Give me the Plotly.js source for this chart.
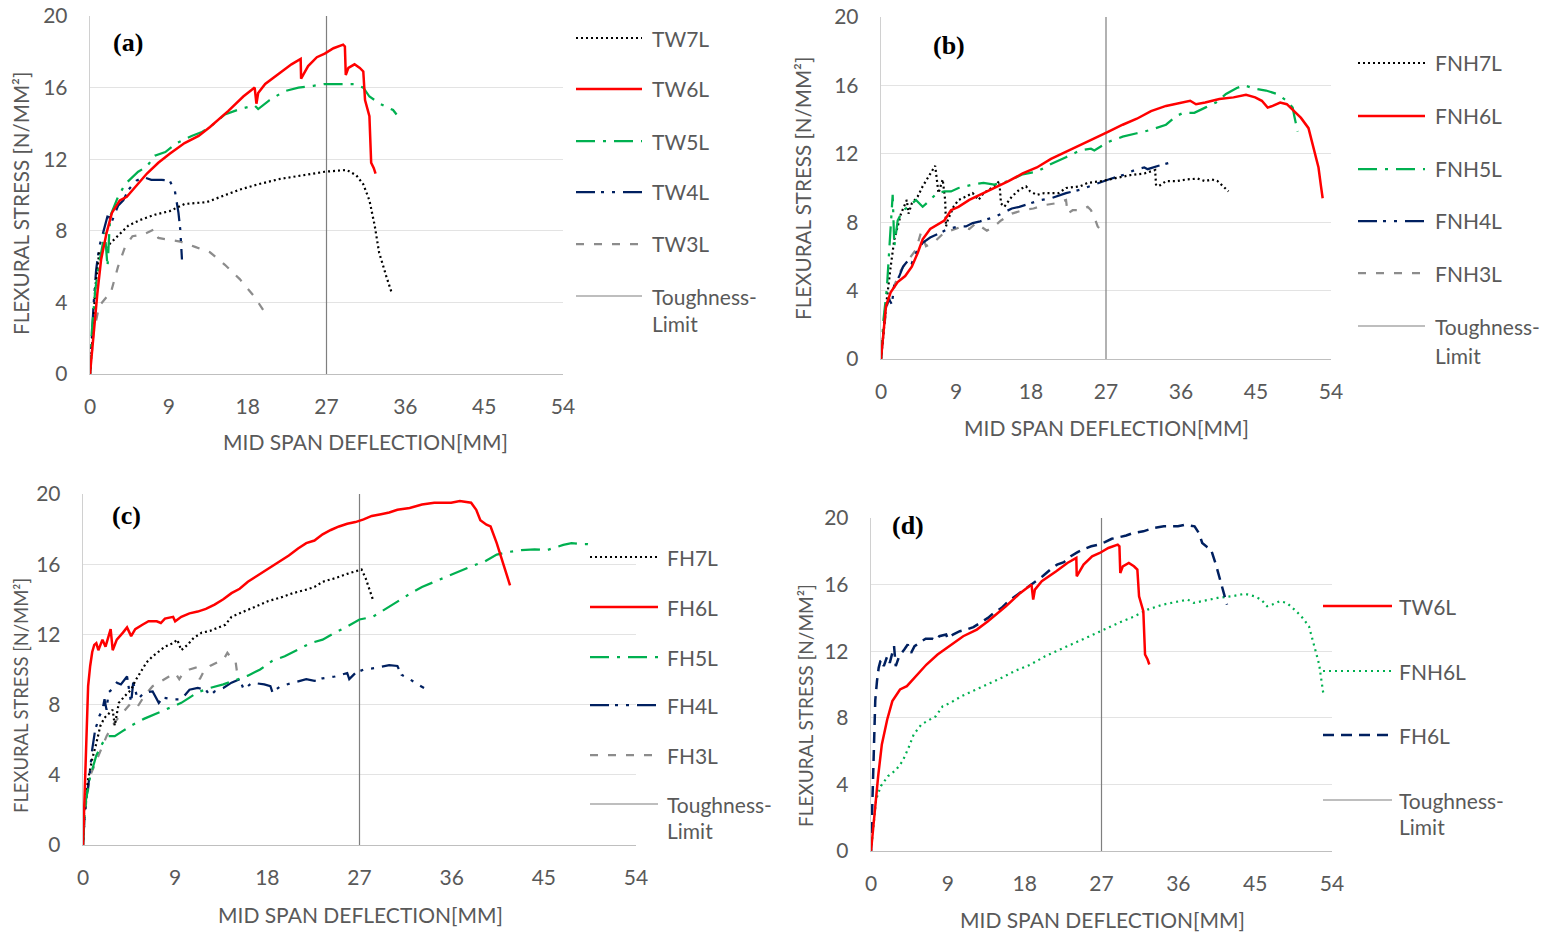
<!DOCTYPE html>
<html>
<head>
<meta charset="utf-8">
<script src="https://cdn.plot.ly/plotly-3.0.1.min.js"></script>
<style>html,body{margin:0;padding:0;background:#fff;}#chart{width:1558px;height:932px;}</style>
</head>
<body>
<div id="chart"></div>
<script>
// ---------------- DATA ----------------
const X_TICKS = [0, 9, 18, 27, 36, 45, 54];
const Y_TICKS = [0, 4, 8, 12, 16, 20];
const X_TITLE = 'MID SPAN DEFLECTION[MM]';
const Y_TITLE = 'FLEXURAL STRESS [N/MM²]';
const TOUGHNESS_X = [27, 27];
const TOUGHNESS_Y = [0, 20];

// (a) TW series
const TW7L_x = [0, 0.3, 0.6, 1.05, 1.9, 3.2, 4.4, 5.7, 7.4, 9.1, 10.8, 13.3, 15.0, 17.1, 19.2, 21.7, 24.3, 26.8, 29.3, 30.4, 31.2, 31.9, 32.5, 33.0, 33.8, 34.4];
const TW7L_y = [0, 2.0, 4.8, 6.8, 7.1, 7.7, 8.3, 8.6, 8.9, 9.1, 9.5, 9.6, 9.9, 10.3, 10.6, 10.9, 11.1, 11.3, 11.4, 11.1, 10.6, 9.7, 8.3, 6.8, 5.5, 4.6];
const TW6L_x = [0, 0.42, 0.84, 1.27, 1.9, 2.5, 3.4, 4.2, 5.3, 6.5, 7.8, 9.1, 10.8, 12.4, 13.7, 15.8, 17.5, 18.8, 19.0, 19.2, 20.0, 21.7, 23.0, 24.05, 24.1, 24.9, 25.9, 26.8, 27.8, 28.9, 29.1, 29.2, 29.5, 30.2, 30.8, 31.2, 31.4, 31.9, 31.95, 32.1, 32.4, 32.6];
const TW6L_y = [0, 2.3, 4.5, 6.4, 7.9, 9.0, 9.7, 9.9, 10.5, 11.2, 11.8, 12.3, 12.9, 13.3, 13.8, 14.7, 15.5, 16.0, 15.1, 15.7, 16.2, 16.8, 17.3, 17.6, 16.5, 17.2, 17.7, 17.9, 18.2, 18.4, 18.3, 16.7, 17.1, 17.3, 17.1, 16.9, 15.3, 14.4, 13.5, 11.8, 11.5, 11.2];
const TW5L_x = [0, 0.2, 0.6, 1.05, 1.7, 1.85, 2.0, 2.3, 3.2, 4.0, 4.85, 5.5, 6.5, 7.4, 8.6, 9.9, 11.6, 12.7, 13.7, 15.4, 17.1, 18.8, 19.2, 20.5, 22.2, 23.8, 25.5, 26.8, 28.5, 30.2, 31.2, 31.9, 33.1, 34.4, 34.6, 35.0];
const TW5L_y = [0, 2.3, 4.7, 6.2, 7.9, 7.0, 6.0, 8.8, 9.9, 10.6, 11.0, 11.3, 11.6, 12.2, 12.4, 12.9, 13.3, 13.5, 13.8, 14.5, 14.8, 15.0, 14.8, 15.3, 15.8, 16.0, 16.1, 16.2, 16.2, 16.2, 16.0, 15.5, 15.1, 14.8, 14.75, 14.5];
const TW4L_x = [0, 0.1, 0.4, 0.7, 1.05, 1.5, 1.9, 2.1, 2.4, 3.2, 3.8, 4.4, 5.3, 6.1, 7.0, 8.2, 9.1, 9.7, 10.1, 10.3, 10.5];
const TW4L_y = [0, 1.0, 3.8, 5.8, 7.1, 7.9, 8.6, 9.0, 8.4, 9.4, 9.7, 10.3, 10.8, 11.0, 10.85, 10.85, 10.8, 10.2, 9.0, 8.1, 6.4];
const TW3L_x = [0, 0.4, 1.05, 1.9, 2.3, 3.2, 4.0, 4.85, 6.1, 7.0, 7.4, 7.8, 9.1, 10.3, 12.0, 13.7, 15.4, 17.1, 18.8, 20.0];
const TW3L_y = [0, 2.3, 3.8, 4.3, 4.4, 6.0, 7.1, 7.7, 7.8, 8.0, 8.1, 7.6, 7.5, 7.4, 7.1, 6.8, 6.1, 5.3, 4.3, 3.4];

// (b) FNH series
const FNH7L_x = [0, 0.3, 0.7, 1.16, 1.6, 2.0, 2.4, 3.1, 3.3, 3.7, 4.4, 5.0, 5.9, 6.5, 6.7, 6.9, 7.4, 7.7, 7.8, 8.0, 8.7, 9.3, 10.2, 11.0, 11.7, 12.3, 13.6, 14.2, 14.4, 14.8, 15.7, 16.6, 17.4, 17.9, 18.7, 19.6, 21.3, 22.2, 23.9, 24.8, 26.4, 28.1, 29.9, 31.6, 32.9, 33.0, 33.3, 34.2, 35.4, 36.7, 38.0, 38.9, 39.7, 40.4, 41.0, 41.7];
const FNH7L_y = [0, 1.55, 3.5, 5.4, 7.0, 7.75, 8.5, 9.3, 8.5, 9.1, 9.5, 10.1, 10.85, 11.3, 10.5, 9.7, 10.5, 9.3, 7.75, 8.1, 8.9, 9.3, 9.5, 9.7, 9.3, 9.7, 10.1, 10.4, 9.1, 8.9, 9.5, 9.9, 10.1, 9.8, 9.6, 9.7, 9.7, 10.0, 10.1, 10.3, 10.4, 10.55, 10.75, 10.85, 11.05, 10.2, 10.1, 10.4, 10.4, 10.5, 10.55, 10.4, 10.5, 10.4, 10.1, 9.8];
const FNH6L_x = [0, 0.3, 0.6, 1.16, 2.0, 2.9, 3.7, 4.4, 5.0, 5.9, 6.7, 7.6, 8.4, 9.3, 10.6, 11.9, 13.6, 15.3, 17.0, 18.7, 20.4, 22.2, 23.9, 25.6, 27.3, 29.0, 30.7, 32.4, 34.2, 35.9, 37.1, 37.8, 38.9, 40.6, 42.3, 43.8, 44.9, 45.7, 46.4, 47.0, 47.9, 48.7, 49.6, 50.4, 51.3, 51.9, 52.5, 52.8, 53.0];
const FNH6L_y = [0, 1.55, 3.1, 3.9, 4.5, 4.85, 5.4, 6.2, 7.0, 7.6, 7.85, 8.1, 8.7, 8.9, 9.3, 9.6, 10.0, 10.4, 10.85, 11.2, 11.7, 12.1, 12.5, 12.9, 13.3, 13.7, 14.05, 14.5, 14.8, 15.0, 15.1, 14.9, 15.0, 15.2, 15.3, 15.45, 15.3, 15.1, 14.7, 14.8, 15.0, 14.9, 14.5, 14.1, 13.5, 12.4, 11.2, 10.1, 9.4];
const FNH5L_x = [0, 0.3, 0.7, 0.95, 1.16, 1.4, 1.6, 2.0, 2.65, 3.3, 4.2, 5.0, 5.9, 6.7, 7.6, 8.4, 9.3, 11.0, 12.3, 13.6, 15.3, 17.0, 18.7, 20.4, 22.2, 23.9, 25.2, 25.6, 27.3, 29.0, 30.7, 32.4, 34.2, 35.4, 36.3, 37.6, 38.9, 40.2, 41.4, 42.7, 43.6, 44.9, 46.2, 47.5, 48.7, 49.4, 49.6, 50.0];
const FNH5L_y = [0, 2.3, 4.1, 6.0, 7.75, 9.6, 6.6, 8.1, 8.7, 8.9, 9.3, 8.9, 9.3, 9.7, 9.8, 9.8, 10.0, 10.2, 10.3, 10.2, 10.4, 10.8, 10.95, 11.4, 11.8, 12.2, 12.3, 12.2, 12.7, 13.0, 13.2, 13.4, 13.7, 14.2, 14.4, 14.4, 14.7, 15.0, 15.5, 15.85, 16.0, 15.8, 15.7, 15.5, 15.1, 14.7, 14.2, 13.3];
const FNH4L_x = [0, 0.3, 0.5, 0.95, 1.3, 1.6, 2.2, 2.65, 3.3, 3.7, 4.2, 5.0, 5.9, 7.2, 8.0, 9.3, 10.2, 11.0, 11.9, 13.6, 14.4, 14.9, 15.7, 16.6, 17.9, 19.2, 20.4, 22.2, 23.9, 25.6, 27.3, 29.0, 30.7, 31.6, 32.0, 33.3, 34.2, 34.8];
const FNH4L_y = [0, 1.75, 2.9, 3.5, 3.2, 4.3, 4.85, 5.4, 5.8, 5.6, 6.2, 6.8, 7.1, 7.4, 7.6, 7.75, 7.75, 7.95, 8.05, 8.3, 8.5, 8.6, 8.8, 8.9, 9.1, 9.3, 9.4, 9.7, 9.9, 10.2, 10.5, 10.75, 11.1, 11.2, 11.1, 11.3, 11.4, 11.5];
const FNH3L_x = [0, 0.3, 0.7, 1.6, 2.4, 3.3, 4.2, 4.8, 5.4, 6.3, 7.6, 8.9, 9.7, 10.6, 11.4, 12.7, 13.6, 14.4, 15.7, 17.0, 18.3, 19.6, 20.9, 22.2, 22.4, 23.0, 23.9, 24.8, 25.2, 25.6, 26.0, 26.4];
const FNH3L_y = [0, 1.55, 3.1, 4.3, 5.2, 5.8, 6.4, 7.4, 6.6, 6.8, 7.4, 7.6, 7.75, 7.6, 7.95, 7.5, 7.75, 8.1, 8.5, 8.7, 8.8, 9.0, 9.1, 9.3, 8.5, 8.7, 8.7, 8.9, 8.7, 8.3, 7.75, 7.55];

// (c) FH series
const FH7L_x = [0, 0.1, 0.5, 0.9, 1.3, 1.7, 2.1, 2.5, 2.9, 3.1, 3.5, 4.1, 4.7, 5.1, 5.55, 6.2, 6.8, 7.4, 8.0, 8.8, 9.2, 9.6, 10.2, 10.8, 11.6, 12.4, 13.3, 13.9, 14.5, 15.7, 16.9, 18.1, 19.3, 20.5, 21.8, 22.6, 23.4, 24.6, 25.8, 26.6, 27.2, 27.6, 28.0, 28.3];
const FH7L_y = [0, 1.85, 3.75, 4.9, 5.8, 6.8, 7.25, 7.45, 7.7, 6.8, 8.1, 8.5, 8.85, 9.35, 9.8, 10.4, 10.75, 11.05, 11.3, 11.5, 11.7, 11.1, 11.4, 11.8, 12.1, 12.2, 12.4, 12.55, 13.0, 13.3, 13.6, 13.9, 14.1, 14.35, 14.55, 14.7, 15.0, 15.2, 15.45, 15.6, 15.7, 15.2, 14.55, 14.0];
const FH6L_x = [0, 0.08, 0.2, 0.36, 0.5, 0.7, 0.9, 1.1, 1.3, 1.5, 1.9, 2.2, 2.5, 2.7, 2.9, 3.3, 3.9, 4.3, 4.7, 5.1, 5.8, 6.4, 7.2, 7.6, 8.0, 8.8, 9.0, 9.6, 10.4, 11.2, 12.0, 12.85, 13.7, 14.5, 15.3, 16.1, 16.9, 17.7, 18.5, 19.3, 20.1, 21.0, 21.8, 22.6, 23.4, 24.2, 25.0, 25.8, 26.6, 27.4, 28.2, 29.1, 29.9, 30.7, 31.9, 33.1, 34.3, 35.1, 35.95, 36.8, 37.9, 38.4, 38.8, 39.4, 39.8, 40.4, 41.0, 41.4, 41.7];
const FH6L_y = [0, 1.5, 4.3, 7.2, 9.05, 10.2, 11.0, 11.4, 11.5, 11.1, 11.7, 11.3, 12.0, 12.3, 11.1, 11.7, 12.1, 12.4, 11.9, 12.3, 12.55, 12.75, 12.75, 12.65, 12.9, 13.0, 12.75, 13.0, 13.2, 13.3, 13.45, 13.7, 14.0, 14.35, 14.6, 15.0, 15.3, 15.6, 15.95, 16.25, 16.5, 16.9, 17.2, 17.35, 17.7, 17.95, 18.15, 18.3, 18.4, 18.55, 18.75, 18.85, 18.95, 19.1, 19.2, 19.4, 19.5, 19.5, 19.5, 19.6, 19.5, 19.1, 18.5, 18.25, 18.15, 17.2, 16.05, 15.3, 14.8];
const FH5L_x = [0, 0.1, 0.3, 0.7, 1.3, 1.9, 2.5, 3.1, 3.9, 4.7, 6.0, 7.2, 8.4, 9.6, 10.4, 11.2, 12.4, 13.7, 14.9, 16.1, 17.3, 18.5, 19.7, 21.0, 22.2, 23.4, 24.6, 25.8, 27.0, 28.3, 29.1, 29.9, 30.7, 31.5, 32.3, 33.1, 34.3, 35.5, 36.8, 38.0, 39.2, 40.4, 41.6, 42.8, 44.1, 45.3, 46.1, 46.9, 47.7, 48.5, 49.3, 49.9];
const FH5L_y = [0, 1.3, 2.6, 3.9, 5.1, 5.8, 6.2, 6.2, 6.5, 6.8, 7.2, 7.5, 7.8, 8.1, 8.4, 8.7, 8.95, 9.15, 9.4, 9.65, 10.0, 10.5, 10.75, 11.15, 11.5, 11.7, 12.1, 12.45, 12.85, 13.0, 13.3, 13.6, 13.9, 14.2, 14.45, 14.7, 15.0, 15.3, 15.6, 15.9, 16.15, 16.55, 16.7, 16.8, 16.85, 16.8, 16.95, 17.1, 17.2, 17.15, 17.15, 17.05];
const FH4L_x = [0, 0.16, 0.36, 0.6, 0.9, 1.2, 1.4, 1.6, 1.9, 2.1, 2.3, 2.5, 2.8, 3.3, 3.7, 4.3, 4.7, 4.9, 5.35, 6.0, 6.8, 7.4, 7.8, 8.8, 9.6, 10.4, 11.2, 12.0, 12.4, 12.85, 13.7, 14.5, 15.3, 15.7, 16.5, 17.7, 18.3, 18.5, 19.3, 20.5, 21.8, 22.6, 23.4, 24.6, 25.8, 26.0, 26.6, 27.4, 28.7, 29.9, 30.7, 31.1, 31.9, 32.7, 33.3];
const FH4L_y = [0, 1.65, 2.8, 3.75, 5.45, 6.6, 6.95, 7.35, 7.7, 8.3, 7.7, 8.7, 8.85, 9.25, 9.15, 9.6, 8.1, 9.25, 8.3, 8.7, 8.75, 8.1, 8.4, 8.3, 8.3, 8.85, 8.95, 8.85, 8.5, 8.75, 8.95, 9.25, 9.45, 8.85, 9.25, 9.15, 9.05, 8.7, 9.05, 9.25, 9.45, 9.35, 9.5, 9.6, 9.8, 9.45, 9.8, 10.0, 10.1, 10.25, 10.2, 9.7, 9.45, 9.15, 8.95];
const FH3L_x = [0, 0.3, 0.7, 1.5, 2.3, 3.1, 3.9, 4.7, 5.35, 6.0, 6.8, 7.6, 8.4, 9.0, 9.4, 9.8, 10.4, 11.0, 11.4, 11.8, 12.4, 13.1, 13.7, 14.1, 14.5, 14.9, 15.1];
const FH3L_y = [0, 2.4, 3.95, 5.1, 6.2, 7.0, 7.55, 8.1, 7.9, 8.5, 9.05, 9.35, 9.6, 9.8, 9.45, 9.8, 10.0, 10.1, 9.45, 9.9, 10.2, 10.4, 10.55, 10.95, 10.65, 10.45, 9.6];

// ---------------- STYLE / LAYOUT ----------------
const W = 1558, H = 932;
const FONT = 'Lato, "Open Sans", sans-serif';
const FS = 21;
const TXT = '#595959';
const px = x => x / W;
const py = y => 1 - y / H;

const STY = {
  s7: {color: '#000000', width: 2.2, dash: '2px,3px'},
  s6: {color: '#FF0000', width: 2.5, dash: 'solid'},
  s5: {color: '#00B050', width: 2.25, dash: '19px,8px,3px,8px'},
  s4: {color: '#002060', width: 2.25, dash: '19px,6px,3px,8px,3px,8px'},
  s3: {color: '#8C8C8C', width: 2.25, dash: '8px,10px'},
  sT: {color: '#7F7F7F', width: 1.2, dash: 'solid'},
  dGreenDot: {color: '#00B050', width: 2.2, dash: '2px,4px'},
  dNavyDash: {color: '#002060', width: 2.5, dash: '11px,7px'}
};

// panel geometry (pixels) and title placement
const P = {
  a: {x0: 90, x1: 563, y0: 16, y1: 374, xt: [365, 441], yt: [21, 204, 20.6], lab: '(a)', labX: 128, labY: 43},
  b: {x0: 881, x1: 1331, y0: 17, y1: 359, xt: [1106, 428], yt: [803, 189, 20.6], lab: '(b)', labX: 949, labY: 45},
  c: {x0: 83, x1: 636, y0: 494, y1: 845, xt: [360, 914], yt: [21, 696, 18.4], lab: '(c)', labX: 126, labY: 515},
  d: {x0: 871, x1: 1332, y0: 518, y1: 851, xt: [1102, 919], yt: [805, 706, 19], lab: '(d)', labX: 908, labY: 525}
};
const AX = {a: ['x', 'y', ''], b: ['x2', 'y2', '2'], c: ['x3', 'y3', '3'], d: ['x4', 'y4', '4']};

const traces = [];
function addLine(panel, name, xs, ys, sty) {
  traces.push({
    type: 'scatter', mode: 'lines', name: name, x: xs, y: ys,
    xaxis: AX[panel][0], yaxis: AX[panel][1],
    line: {color: sty.color, width: sty.width, dash: sty.dash},
    showlegend: false, hoverinfo: 'skip'
  });
}

// (a)
addLine('a', 'Toughness-Limit', TOUGHNESS_X, TOUGHNESS_Y, STY.sT);
addLine('a', 'TW3L', TW3L_x, TW3L_y, STY.s3);
addLine('a', 'TW4L', TW4L_x, TW4L_y, STY.s4);
addLine('a', 'TW7L', TW7L_x, TW7L_y, STY.s7);
addLine('a', 'TW5L', TW5L_x, TW5L_y, STY.s5);
addLine('a', 'TW6L', TW6L_x, TW6L_y, STY.s6);
// (b)
addLine('b', 'Toughness-Limit', TOUGHNESS_X, TOUGHNESS_Y, STY.sT);
addLine('b', 'FNH3L', FNH3L_x, FNH3L_y, STY.s3);
addLine('b', 'FNH4L', FNH4L_x, FNH4L_y, STY.s4);
addLine('b', 'FNH7L', FNH7L_x, FNH7L_y, STY.s7);
addLine('b', 'FNH5L', FNH5L_x, FNH5L_y, STY.s5);
addLine('b', 'FNH6L', FNH6L_x, FNH6L_y, STY.s6);
// (c)
addLine('c', 'Toughness-Limit', TOUGHNESS_X, TOUGHNESS_Y, STY.sT);
addLine('c', 'FH3L', FH3L_x, FH3L_y, STY.s3);
addLine('c', 'FH4L', FH4L_x, FH4L_y, STY.s4);
addLine('c', 'FH7L', FH7L_x, FH7L_y, STY.s7);
addLine('c', 'FH5L', FH5L_x, FH5L_y, STY.s5);
addLine('c', 'FH6L', FH6L_x, FH6L_y, STY.s6);
// (d)
addLine('d', 'Toughness-Limit', TOUGHNESS_X, TOUGHNESS_Y, STY.sT);
addLine('d', 'FNH6L', FNH6L_x, FNH6L_y, STY.dGreenDot);
addLine('d', 'FH6L', FH6L_x, FH6L_y, STY.dNavyDash);
addLine('d', 'TW6L', TW6L_x, TW6L_y, STY.s6);

// legends (drawn manually to match the original sample length / spacing)
const LEG = {
  a: {x1: 576, x2: 642, tx: 650, items: [['TW7L', STY.s7, 38], ['TW6L', STY.s6, 89], ['TW5L', STY.s5, 141], ['TW4L', STY.s4, 192], ['TW3L', STY.s3, 244]], t: [296, 324]},
  b: {x1: 1358, x2: 1425, tx: 1433, items: [['FNH7L', STY.s7, 63], ['FNH6L', STY.s6, 116], ['FNH5L', STY.s5, 169], ['FNH4L', STY.s4, 221], ['FNH3L', STY.s3, 273]], t: [326, 355]},
  c: {x1: 590, x2: 658, tx: 665, items: [['FH7L', STY.s7, 557], ['FH6L', STY.s6, 607], ['FH5L', STY.s5, 657], ['FH4L', STY.s4, 705], ['FH3L', STY.s3, 755]], t: [804, 830]},
  d: {x1: 1323, x2: 1392, tx: 1397, items: [['TW6L', STY.s6, 606], ['FNH6L', STY.dGreenDot, 671], ['FH6L', STY.dNavyDash, 735]], t: [800, 826]}
};

const shapes = [];
const annotations = [];
function txt(x, y, s, opts) {
  annotations.push(Object.assign({
    xref: 'paper', yref: 'paper', x: px(x), y: py(y), text: s, showarrow: false,
    xanchor: 'left', yanchor: 'middle', font: {family: FONT, size: FS, color: TXT}
  }, opts || {}));
}
for (const k of Object.keys(LEG)) {
  const L = LEG[k];
  for (const it of L.items) {
    shapes.push({type: 'line', xref: 'paper', yref: 'paper', x0: px(L.x1), x1: px(L.x2), y0: py(it[2]), y1: py(it[2]),
      line: {color: it[1].color, width: it[1].width, dash: it[1].dash}});
    txt(L.tx, it[2], it[0]);
  }
  shapes.push({type: 'line', xref: 'paper', yref: 'paper', x0: px(L.x1), x1: px(L.x2), y0: py(L.t[0]), y1: py(L.t[0]),
    line: {color: STY.sT.color, width: 1.2}});
  txt(L.tx, L.t[0], 'Toughness-');
  txt(L.tx, L.t[1], 'Limit');
}

const layout = {
  width: W, height: H, margin: {l: 0, r: 0, t: 0, b: 0},
  paper_bgcolor: '#ffffff', plot_bgcolor: '#ffffff',
  showlegend: false, hovermode: false,
  font: {family: FONT, color: TXT, size: FS},
  shapes: shapes, annotations: annotations
};

for (const k of Object.keys(P)) {
  const p = P[k];
  const sfx = AX[k][2];
  layout['xaxis' + sfx] = {
    domain: [px(p.x0), px(p.x1)], anchor: AX[k][1], range: [0, 54],
    tickmode: 'array', tickvals: X_TICKS, ticks: '', showgrid: false, zeroline: false,
    showline: true, linecolor: '#BFBFBF', linewidth: 1.3,
    tickfont: {family: FONT, size: FS, color: TXT}, ticklabelstandoff: 13,
    fixedrange: true
  };
  layout['yaxis' + sfx] = {
    domain: [py(p.y1), py(p.y0)], anchor: AX[k][0], range: [0, 20],
    tickmode: 'array', tickvals: Y_TICKS, ticks: '', showgrid: true, gridcolor: '#E3E3E3', gridwidth: 1.3,
    zeroline: false, showline: true, linecolor: '#D0D0D0', linewidth: 1.3,
    tickfont: {family: FONT, size: FS, color: TXT}, ticklabelstandoff: 17,
    fixedrange: true
  };
  // axis titles (placed as in the original, which are not centred on every axis)
  txt(p.xt[0], p.xt[1], X_TITLE, {xanchor: 'center'});
  txt(p.yt[0], p.yt[1], Y_TITLE, {xanchor: 'center', textangle: -90, font: {family: FONT, size: p.yt[2], color: TXT}});
  annotations.push({xref: 'paper', yref: 'paper', x: px(p.labX), y: py(p.labY), text: p.lab,
    showarrow: false, xanchor: 'center', yanchor: 'middle',
    font: {family: '"Liberation Serif", "Times New Roman", serif', size: 26, color: '#000000', weight: 'bold'}});
}

Plotly.newPlot('chart', traces, layout, {displayModeBar: false, staticPlot: true});
</script>
</body>
</html>
